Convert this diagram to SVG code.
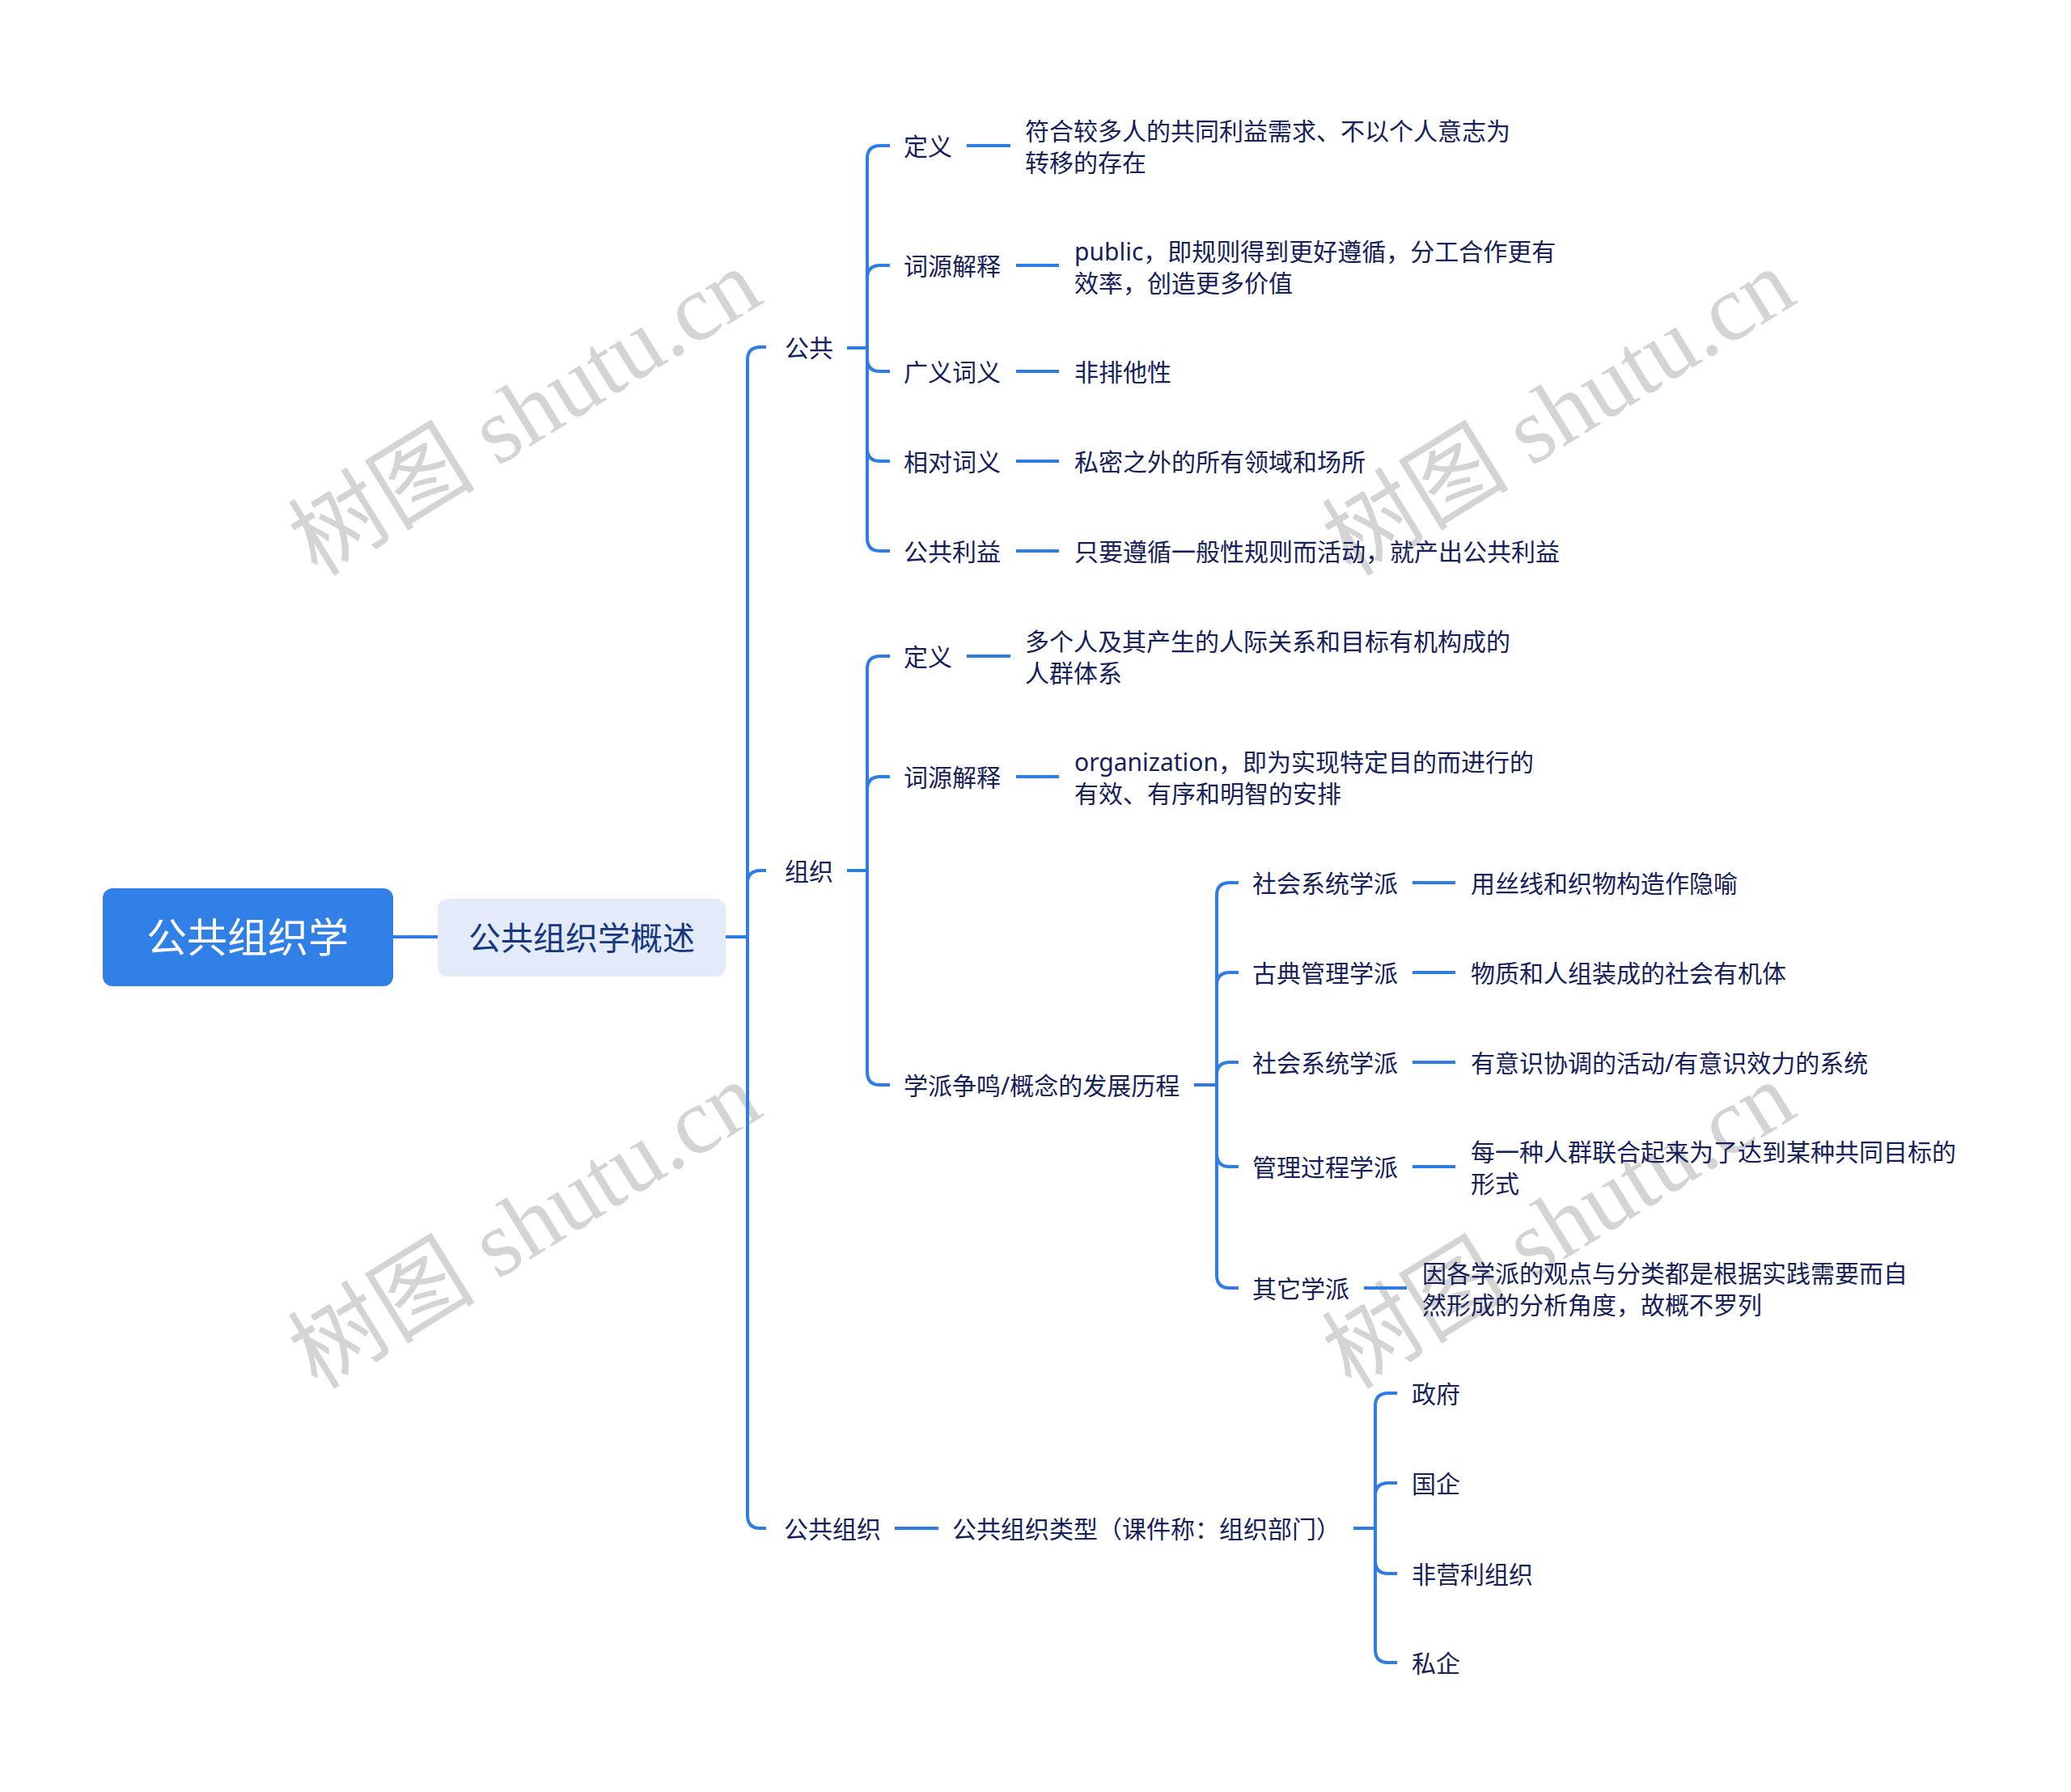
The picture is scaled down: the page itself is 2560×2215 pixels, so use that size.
<svg xmlns="http://www.w3.org/2000/svg" width="2560" height="2215" viewBox="0 0 2560 2215">
<style>
.t{font-family:"Noto Sans","Noto Sans CJK SC",sans-serif;font-size:30px;fill:#16215a;dominant-baseline:central}
.c{fill:none;stroke:#2f7de1;stroke-width:4;stroke-linecap:butt}
.wm{font-family:"Liberation Serif","Noto Sans CJK SC",serif;font-size:116px;fill:#d4d4d4;text-anchor:middle;dominant-baseline:central}
</style>
<rect width="2560" height="2215" fill="#ffffff"/>
<g id="watermarks">
<text class="wm" transform="translate(649 510) rotate(-31.6)">树图 shutu.cn</text>
<text class="wm" transform="translate(1927 510) rotate(-31.6)">树图 shutu.cn</text>
<text class="wm" transform="translate(649 1515) rotate(-31.6)">树图 shutu.cn</text>
<text class="wm" transform="translate(1927 1515) rotate(-31.6)">树图 shutu.cn</text>
</g>
<g id="connectors">
<path class="c" d="M486 1158H541"/>
<path class="c" d="M897 1158H924"/>
<path class="c" d="M924 1158V445Q924 429 940 429H947"/>
<path class="c" d="M924 1158V1092Q924 1076 940 1076H947"/>
<path class="c" d="M924 1158V1873Q924 1889 940 1889H947"/>
<path class="c" d="M1047 430H1072"/>
<path class="c" d="M1072 430V196Q1072 180 1088 180H1100"/>
<path class="c" d="M1072 430V344Q1072 328 1088 328H1100"/>
<path class="c" d="M1072 430V443Q1072 459 1088 459H1100"/>
<path class="c" d="M1072 430V554Q1072 570 1088 570H1100"/>
<path class="c" d="M1072 430V665Q1072 681 1088 681H1100"/>
<path class="c" d="M1195 180H1249"/>
<path class="c" d="M1256 328H1309"/>
<path class="c" d="M1256 459H1309"/>
<path class="c" d="M1256 570H1309"/>
<path class="c" d="M1256 681H1309"/>
<path class="c" d="M1047 1076H1072"/>
<path class="c" d="M1072 1076V827Q1072 811 1088 811H1100"/>
<path class="c" d="M1072 1076V976Q1072 960 1088 960H1100"/>
<path class="c" d="M1072 1076V1325Q1072 1341 1088 1341H1100"/>
<path class="c" d="M1195 811H1249"/>
<path class="c" d="M1256 960H1309"/>
<path class="c" d="M1476 1341H1504"/>
<path class="c" d="M1504 1341V1107Q1504 1091 1520 1091H1531"/>
<path class="c" d="M1504 1341V1218Q1504 1202 1520 1202H1531"/>
<path class="c" d="M1504 1341V1329Q1504 1313 1520 1313H1531"/>
<path class="c" d="M1504 1341V1426Q1504 1442 1520 1442H1531"/>
<path class="c" d="M1504 1341V1576Q1504 1592 1520 1592H1531"/>
<path class="c" d="M1746 1091H1799"/>
<path class="c" d="M1746 1202H1799"/>
<path class="c" d="M1746 1313H1799"/>
<path class="c" d="M1746 1442H1799"/>
<path class="c" d="M1686 1592H1739"/>
<path class="c" d="M1106 1889H1160"/>
<path class="c" d="M1673 1889H1700"/>
<path class="c" d="M1700 1889V1738Q1700 1722 1716 1722H1727"/>
<path class="c" d="M1700 1889V1849Q1700 1833 1716 1833H1727"/>
<path class="c" d="M1700 1889V1929Q1700 1945 1716 1945H1727"/>
<path class="c" d="M1700 1889V2039Q1700 2055 1716 2055H1727"/>
</g>
<g id="root">
<rect x="127" y="1098" width="359" height="121" rx="12" fill="#3080e7"/>
<text x="306" y="1158" text-anchor="middle" style="font-family:'Noto Sans','Noto Sans CJK SC',sans-serif;font-size:50px;fill:#ffffff;dominant-baseline:central">公共组织学</text>
</g>
<g id="overview">
<rect x="541" y="1111" width="356" height="96" rx="12" fill="#e3ebfb"/>
<text x="719" y="1158" text-anchor="middle" style="font-family:'Noto Sans','Noto Sans CJK SC',sans-serif;font-size:40px;fill:#17377f;dominant-baseline:central">公共组织学概述</text>
</g>
<g id="n-gonggong"><text class="t" x="970" y="429">公共</text></g>
<g id="n-gg-def"><text class="t" x="1117" y="180">定义</text></g>
<g id="n-gg-def-leaf"><text class="t" x="1267" y="161">符合较多人的共同利益需求、不以个人意志为</text><text class="t" x="1267" y="200">转移的存在</text></g>
<g id="n-gg-ety"><text class="t" x="1117" y="328">词源解释</text></g>
<g id="n-gg-ety-leaf"><text class="t" x="1328" y="310">public，即规则得到更好遵循，分工合作更有</text><text class="t" x="1328" y="349">效率，创造更多价值</text></g>
<g id="n-gg-broad"><text class="t" x="1117" y="459">广义词义</text></g>
<g id="n-gg-broad-leaf"><text class="t" x="1328" y="459">非排他性</text></g>
<g id="n-gg-rel"><text class="t" x="1117" y="570">相对词义</text></g>
<g id="n-gg-rel-leaf"><text class="t" x="1328" y="570">私密之外的所有领域和场所</text></g>
<g id="n-gg-pi"><text class="t" x="1117" y="681">公共利益</text></g>
<g id="n-gg-pi-leaf"><text class="t" x="1328" y="681">只要遵循一般性规则而活动，就产出公共利益</text></g>
<g id="n-zuzhi"><text class="t" x="970" y="1076">组织</text></g>
<g id="n-zz-def"><text class="t" x="1117" y="811">定义</text></g>
<g id="n-zz-def-leaf"><text class="t" x="1267" y="792">多个人及其产生的人际关系和目标有机构成的</text><text class="t" x="1267" y="831">人群体系</text></g>
<g id="n-zz-ety"><text class="t" x="1117" y="960">词源解释</text></g>
<g id="n-zz-ety-leaf"><text class="t" x="1328" y="941">organization，即为实现特定目的而进行的</text><text class="t" x="1328" y="980">有效、有序和明智的安排</text></g>
<g id="n-zz-hist"><text class="t" x="1117" y="1341">学派争鸣/概念的发展历程</text></g>
<g id="n-s1"><text class="t" x="1548" y="1091">社会系统学派</text></g>
<g id="n-s1-leaf"><text class="t" x="1818" y="1091">用丝线和织物构造作隐喻</text></g>
<g id="n-s2"><text class="t" x="1548" y="1202">古典管理学派</text></g>
<g id="n-s2-leaf"><text class="t" x="1818" y="1202">物质和人组装成的社会有机体</text></g>
<g id="n-s3"><text class="t" x="1548" y="1313">社会系统学派</text></g>
<g id="n-s3-leaf"><text class="t" x="1818" y="1313">有意识协调的活动/有意识效力的系统</text></g>
<g id="n-s4"><text class="t" x="1548" y="1442">管理过程学派</text></g>
<g id="n-s4-leaf"><text class="t" x="1818" y="1423">每一种人群联合起来为了达到某种共同目标的</text><text class="t" x="1818" y="1462">形式</text></g>
<g id="n-s5"><text class="t" x="1548" y="1592">其它学派</text></g>
<g id="n-s5-leaf"><text class="t" x="1758" y="1573">因各学派的观点与分类都是根据实践需要而自</text><text class="t" x="1758" y="1612">然形成的分析角度，故概不罗列</text></g>
<g id="n-gz"><text class="t" x="969" y="1889">公共组织</text></g>
<g id="n-gz-type"><text class="t" x="1177" y="1889">公共组织类型（课件称：组织部门）</text></g>
<g id="n-t1"><text class="t" x="1745" y="1722">政府</text></g>
<g id="n-t2"><text class="t" x="1745" y="1833">国企</text></g>
<g id="n-t3"><text class="t" x="1745" y="1945">非营利组织</text></g>
<g id="n-t4"><text class="t" x="1745" y="2055">私企</text></g>
</svg>
